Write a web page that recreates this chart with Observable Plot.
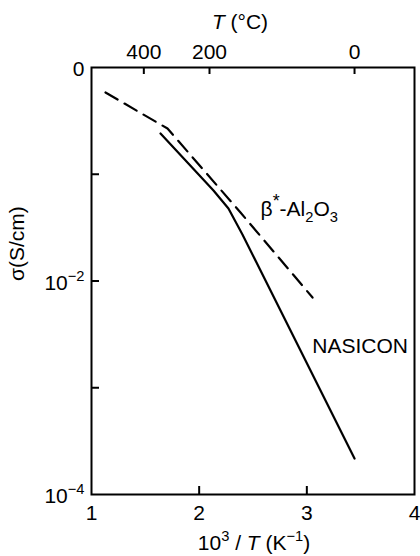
<!DOCTYPE html>
<html><head><meta charset="utf-8">
<script src="https://cdn.jsdelivr.net/npm/d3@7"></script>
<script src="https://cdn.jsdelivr.net/npm/@observablehq/plot@0.6"></script>
<style>html,body{margin:0;padding:0;background:#fff}svg{display:block}</style>
</head><body><div id="chart"></div>
<script>
// ---- data ----
const xTicks = [1, 2, 3, 4];
const xTickLabels = ["1", "2", "3", "4"];
const topTickX = [1.486, 2.096, 3.443];          // positions of the T (°C) ticks in 10^3/T units
const topTickLabels = ["400", "200", "0"];
const yTicks = [1, 1e-1, 1e-2, 1e-3, 1e-4];
const yLabelVals = [1, 1e-2, 1e-4];
const yLabelText = ["0", "10^{−2}", "10^{−4}"];

const betaX = [1.130, 1.706, 2.384, 3.053];
const betaY = [0.583, 0.268, 0.0438, 0.0070];
const nasiconX = [1.641, 2.133, 2.272, 2.402, 3.443];
const nasiconY = [0.241, 0.0705, 0.0478, 0.0273, 0.000217];

const seriesLabels = ["β^{*}-Al_{2}O_{3}", "NASICON"];
const seriesLabelX = [2.570, 3.050];
const seriesLabelY = [0.0468, 0.00243];

const xTitle = "10^{3} / ~{T} (K^{−1})";
const topTitle = "~{T} (°C)";
const yTitle = "σ(S/cm)";

// ---- build ----
const beta = betaX.map((x, i) => ({x, y: betaY[i]}));
const nasicon = nasiconX.map((x, i) => ({x, y: nasiconY[i]}));
const labels = seriesLabels.map((t, i) => ({t, x: seriesLabelX[i], y: seriesLabelY[i]}));
const FS = 21;
const innerH = 556 - 67 - 62;
const innerW = 420 - 91 - 6;
const T = {fontSize: FS, fill: "#000", lineAnchor: "middle"};

const chart = Plot.plot({
  width: 420, height: 556,
  marginLeft: 91, marginRight: 6, marginTop: 67, marginBottom: 62,
  style: {fontFamily: "'Liberation Sans', Arial, Helvetica, sans-serif", fontSize: FS + "px", background: "#fff", color: "#000"},
  x: {domain: [1, 4], axis: null},
  y: {type: "log", domain: [1e-4, 1], axis: null},
  marks: [
    // ticks (inward)
    Plot.ruleX(xTicks.slice(1, -1), {x: d => d, insetTop: innerH - 8, stroke: "#000", strokeWidth: 2}),
    Plot.ruleX(topTickX, {x: d => d, insetBottom: innerH - 7, stroke: "#000", strokeWidth: 2}),
    Plot.ruleY(yTicks.slice(1, -1), {y: d => d, insetRight: innerW - 8, stroke: "#000", strokeWidth: 2}),
    // tick labels
    Plot.text(xTicks, {x: d => d, frameAnchor: "bottom", dy: 19, text: (d, i) => xTickLabels[i], ...T}),
    Plot.text(topTickX, {x: d => d, frameAnchor: "top", dy: -15, text: (d, i) => topTickLabels[i], ...T}),
    Plot.text(yLabelVals, {y: d => d, frameAnchor: "left", dx: -7, dy: 2, textAnchor: "end", text: (d, i) => yLabelText[i], ...T}),
    // titles
    Plot.text([topTitle], {frameAnchor: "top", dx: -13, dy: -45, text: d => d, ...T}),
    Plot.text([xTitle], {frameAnchor: "bottom", dx: 1, dy: 49, text: d => d, ...T}),
    Plot.text([yTitle], {frameAnchor: "left", dx: -74, rotate: -90, text: d => d, ...T}),
    // series
    Plot.line(beta, {x: "x", y: "y", stroke: "#000", strokeWidth: 2.2, strokeDasharray: "14,8"}),
    Plot.line(nasicon, {x: "x", y: "y", stroke: "#000", strokeWidth: 2.2}),
    Plot.text(labels, {x: "x", y: "y", text: "t", textAnchor: "start", ...T}),
    Plot.frame({stroke: "#000", strokeWidth: 2})
  ]
});

// rich text: ^{sup}, _{sub}, ~{italic}
const NS = "http://www.w3.org/2000/svg";
d3.select(chart).selectAll("text").each(function () {
  const src = this.textContent;
  if (!/[\^_~]\{/.test(src)) return;
  const fs = parseFloat(this.getAttribute("font-size")) || FS;
  this.textContent = "";
  const re = /([\^_~])\{([^}]*)\}|([^\^_~]+)/g;
  let m, shift = 0;
  while ((m = re.exec(src))) {
    const ts = document.createElementNS(NS, "tspan");
    let target = 0, txt;
    if (m[1]) {
      txt = m[2];
      if (m[1] === "^") { target = -0.42 * fs; ts.setAttribute("font-size", (txt === "*" ? 0.85 : 0.7) * fs); }
      else if (m[1] === "_") { target = 0.28 * fs; ts.setAttribute("font-size", 0.7 * fs); }
      else { ts.setAttribute("font-style", "italic"); }
    } else txt = m[3];
    if (target - shift !== 0) ts.setAttribute("dy", target - shift);
    shift = target;
    ts.textContent = txt;
    this.appendChild(ts);
  }
});
document.getElementById("chart").appendChild(chart);
</script>
</body></html>
